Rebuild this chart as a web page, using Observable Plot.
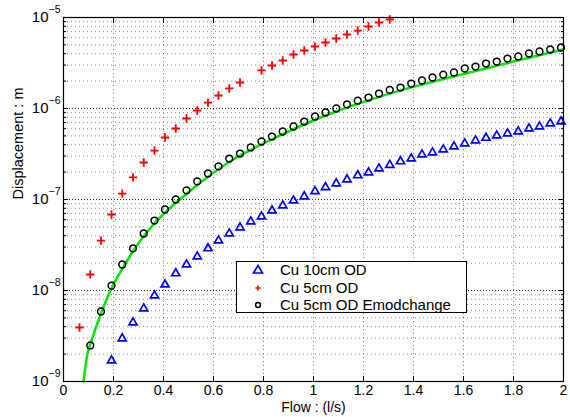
<!DOCTYPE html>
<html><head><meta charset="utf-8">
<script src="https://cdn.jsdelivr.net/npm/d3@7"></script>
<script src="https://cdn.jsdelivr.net/npm/@observablehq/plot@0.6"></script>
<style>
body{margin:0;background:#fff;}
#wrap{position:relative;width:570px;height:417px;font-family:"Liberation Sans",Arial,Helvetica,sans-serif;}
#legend{position:absolute;left:236px;top:261px;width:229px;height:50px;border:1px solid #000;background:#fff;}
.row{position:absolute;left:0;height:16px;display:flex;align-items:center;font-size:15px;color:#000;white-space:nowrap;}
.row svg{position:absolute;left:11px;top:0;}
.row span{position:absolute;left:43px;line-height:16px;}
</style></head>
<body><div id="wrap"></div>
<script>
// ---- data ----
const xTicks = [0, 0.2, 0.4, 0.6, 0.8, 1, 1.2, 1.4, 1.6, 1.8, 2];
const yDecades = [1e-9, 1e-8, 1e-7, 1e-6, 1e-5];
const yDecadeLabels = ["10^-9", "10^-8", "10^-7", "10^-6", "10^-5"];
const seriesNames = ["Cu 10cm OD", "Cu 5cm OD", "Cu 5cm OD Emodchange"];
const xLabel = "Flow : (l/s)";
const yLabel = "Displacement : m";

const flow10 = [0.192,0.235,0.278,0.321,0.364,0.406,0.449,0.492,0.535,0.578,0.620,0.663,0.706,0.749,0.792,0.834,0.877,0.920,0.963,1.006,1.048,1.091,1.134,1.177,1.220,1.262,1.305,1.348,1.391,1.434,1.476,1.519,1.562,1.605,1.648,1.690,1.733,1.776,1.819,1.862,1.904,1.947,1.990];
const disp10 = [1.70e-9,2.97e-9,4.45e-9,6.34e-9,8.81e-9,1.16e-8,1.54e-8,1.93e-8,2.36e-8,2.90e-8,3.54e-8,4.23e-8,4.92e-8,5.73e-8,6.50e-8,7.57e-8,8.59e-8,9.75e-8,1.08e-7,1.23e-7,1.36e-7,1.50e-7,1.66e-7,1.84e-7,1.98e-7,2.19e-7,2.39e-7,2.62e-7,2.82e-7,3.12e-7,3.28e-7,3.54e-7,3.82e-7,4.12e-7,4.45e-7,4.75e-7,5.05e-7,5.31e-7,5.59e-7,6.03e-7,6.34e-7,6.84e-7,7.19e-7];

const flow5 = [0.064,0.107,0.150,0.192,0.235,0.278,0.321,0.364,0.406,0.449,0.492,0.535,0.578,0.620,0.663,0.706,0.792,0.834,0.877,0.920,0.963,1.006,1.048,1.091,1.134,1.177,1.220,1.262,1.305];
const disp5 = [3.92e-9,1.50e-8,3.54e-8,6.84e-8,1.16e-7,1.75e-7,2.55e-7,3.45e-7,4.80e-7,6.03e-7,7.76e-7,9.51e-7,1.16e-6,1.39e-6,1.66e-6,1.93e-6,2.62e-6,2.97e-6,3.37e-6,3.92e-6,4.34e-6,4.80e-6,5.31e-6,5.88e-6,6.50e-6,7.19e-6,7.96e-6,8.81e-6,9.51e-6];

const flowE = [0.107,0.150,0.192,0.235,0.278,0.321,0.364,0.406,0.449,0.492,0.535,0.578,0.620,0.663,0.706,0.749,0.792,0.834,0.877,0.920,0.963,1.006,1.048,1.091,1.134,1.177,1.220,1.262,1.305,1.348,1.391,1.434,1.476,1.519,1.562,1.605,1.648,1.690,1.733,1.776,1.819,1.862,1.904,1.947,1.990];
const dispE = [2.49e-9,5.88e-9,1.13e-8,1.93e-8,2.90e-8,4.23e-8,5.87e-8,7.76e-8,1.00e-7,1.26e-7,1.58e-7,1.93e-7,2.31e-7,2.82e-7,3.20e-7,3.73e-7,4.34e-7,4.92e-7,5.59e-7,6.34e-7,7.19e-7,8.17e-7,9.04e-7,1.00e-6,1.11e-6,1.22e-6,1.32e-6,1.46e-6,1.60e-6,1.70e-6,1.88e-6,2.03e-6,2.19e-6,2.36e-6,2.49e-6,2.75e-6,2.89e-6,3.12e-6,3.28e-6,3.54e-6,3.73e-6,4.02e-6,4.23e-6,4.45e-6,4.68e-6];

const fitFlow = [0.08,0.096,0.112,0.144,0.188,0.248,0.308,0.36,0.428,0.488,0.548,0.676,0.808,0.948,1.08,1.216,1.348,1.536,1.8,2.0];
const fitDisp = [1e-9,2.03e-9,2.82e-9,5.05e-9,1.0e-8,1.98e-8,3.54e-8,5.31e-8,8.17e-8,1.13e-7,1.54e-7,2.72e-7,4.23e-7,6.42e-7,9.04e-7,1.22e-6,1.58e-6,2.16e-6,3.28e-6,4.45e-6];

// ---- build ----
const yMinor = yDecades.slice(0, -1).flatMap(d => [2,3,4,5,6,7,8,9].map(k => k * d));
const rows = (xs, ys) => xs.map((x, i) => ({x, y: ys[i]}));
const labelOf = new Map(yDecades.map((d, i) => [d, yDecadeLabels[i]]));
const blank = () => "";

const plot = Plot.plot({
  width: 570, height: 417,
  marginLeft: 63, marginRight: 7, marginTop: 17, marginBottom: 36,
  style: {fontFamily: '"Liberation Sans", Arial, Helvetica, sans-serif', fontSize: "14px", background: "white", color: "black", overflow: "visible"},
  x: {domain: [0, 2], label: null},
  y: {type: "log", domain: [1e-9, 1e-5], label: null},
  marks: [
    Plot.gridY(yMinor, {stroke: "#000", strokeOpacity: 0.45, strokeDasharray: "1,3"}),
    Plot.gridY(yDecades, {stroke: "#000", strokeOpacity: 0.85, strokeDasharray: "1,2"}),
    Plot.gridX(xTicks, {stroke: "#000", strokeOpacity: 0.5, strokeDasharray: "1,3"}),
    Plot.line(rows(fitFlow, fitDisp), {x: "x", y: "y", stroke: "#00e600", strokeWidth: 2.5, curve: "monotone-x"}),
    Plot.dot(rows(flow10, disp10), {x: "x", y: "y", symbol: "triangle", r: 3.0, stroke: "#0000ff", strokeWidth: 1.7, fill: "none"}),
    Plot.dot(rows(flow5, disp5), {x: "x", y: "y", symbol: "plus", r: 2.8, stroke: "#ff0000", strokeWidth: 1.8}),
    Plot.dot(rows(flowE, dispE), {x: "x", y: "y", symbol: "circle", r: 3.4, stroke: "#000", strokeWidth: 1.5, fill: "none"}),
    Plot.frame({stroke: "#000", strokeWidth: 1.2}),
    Plot.axisX(xTicks, {anchor: "bottom", tickSize: -5, tickFormat: blank, label: null}),
    Plot.axisX(xTicks, {anchor: "top", tickSize: -5, tickFormat: blank, label: null}),
    Plot.axisY(yDecades, {anchor: "left", tickSize: -5, tickFormat: blank, label: null}),
    Plot.axisY(yDecades, {anchor: "right", tickSize: -5, tickFormat: blank, label: null}),
    Plot.axisY(yMinor, {anchor: "left", tickSize: -3, tickFormat: blank, label: null}),
    Plot.axisY(yMinor, {anchor: "right", tickSize: -3, tickFormat: blank, label: null}),
    Plot.axisX(xTicks, {anchor: "bottom", tickSize: 0, tickPadding: 4, tickFormat: d => String(d), label: null, fontSize: 14}),
    Plot.axisY(yDecades, {anchor: "left", tickSize: 0, tickPadding: 3, tickFormat: d => labelOf.get(d), label: null, fontSize: 15}),
    Plot.text([xLabel], {frameAnchor: "bottom", dy: 30.5, text: d => d, fontSize: 14}),
    Plot.text([yLabel], {frameAnchor: "left", dx: -45, rotate: -90, text: d => d, fontSize: 14.5})
  ]
});

// superscript exponents on the y tick labels
d3.select(plot).selectAll('g[aria-label="y-axis tick label"] text').each(function() {
  const m = /^10\^(.*)$/.exec(this.textContent);
  if (!m) return;
  const t = d3.select(this);
  t.text("10");
  t.append("tspan").attr("dy", "-9").attr("font-size", "10.5px").text(m[1].replace("-", "\u2212"));
});

const wrap = document.getElementById("wrap");
wrap.appendChild(plot);

// legend
const legend = document.createElement("div");
legend.id = "legend";
const markers = [
  '<polygon points="10,3.5 14.5,11 5.5,11" fill="none" stroke="#0000ff" stroke-width="1.7"/>',
  '<path d="M7.5,8H12.5M10,5.5V10.5" stroke="#ff0000" stroke-width="1.6"/>',
  '<circle cx="10" cy="8" r="2.4" fill="none" stroke="#000" stroke-width="1.5"/>'
];
const tops = [0, 17.5, 34.5];
seriesNames.forEach((name, i) => {
  const r = document.createElement("div");
  r.className = "row";
  r.style.top = tops[i] + "px";
  r.innerHTML = `<svg width="20" height="16">${markers[i]}</svg><span></span>`;
  r.querySelector("span").textContent = name;
  legend.appendChild(r);
});
wrap.appendChild(legend);
</script>
</body></html>
